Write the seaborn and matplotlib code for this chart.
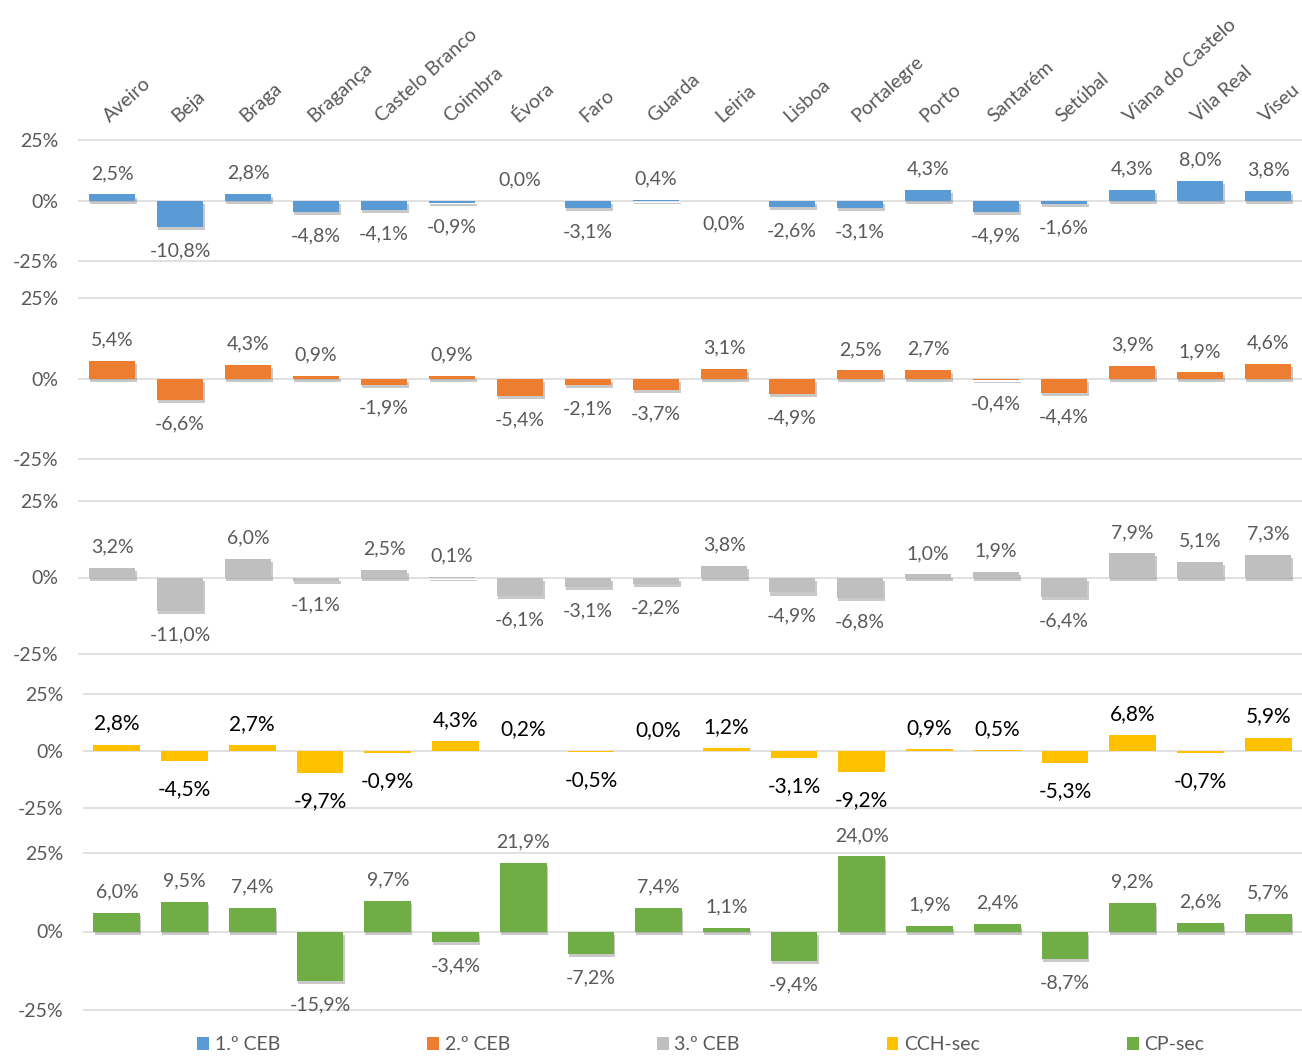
import matplotlib
matplotlib.use("Agg")
import matplotlib.pyplot as plt
import matplotlib.patheffects as pe
from matplotlib.patches import Patch
import seaborn as sns
import pandas as pd

districts = ["Aveiro", "Beja", "Braga", "Bragança", "Castelo Branco", "Coimbra", "Évora",
             "Faro", "Guarda", "Leiria", "Lisboa", "Portalegre", "Porto", "Santarém",
             "Setúbal", "Viana do Castelo", "Vila Real", "Viseu"]

ceb1 = [2.5, -10.8, 2.8, -4.8, -4.1, -0.9, 0.0, -3.1, 0.4, -0.04, -2.6, -3.1, 4.3, -4.9, -1.6, 4.3, 8.0, 3.8]
ceb2 = [5.4, -6.6, 4.3, 0.9, -1.9, 0.9, -5.4, -2.1, -3.7, 3.1, -4.9, 2.5, 2.7, -0.4, -4.4, 3.9, 1.9, 4.6]
ceb3 = [3.2, -11.0, 6.0, -1.1, 2.5, 0.1, -6.1, -3.1, -2.2, 3.8, -4.9, -6.8, 1.0, 1.9, -6.4, 7.9, 5.1, 7.3]
cch_sec = [2.8, -4.5, 2.7, -9.7, -0.9, 4.3, 0.2, -0.5, 0.0, 1.2, -3.1, -9.2, 0.9, 0.5, -5.3, 6.8, -0.7, 5.9]
cp_sec = [6.0, 9.5, 7.4, -15.9, 9.7, -3.4, 21.9, -7.2, 7.4, 1.1, -9.4, 24.0, 1.9, 2.4, -8.7, 9.2, 2.6, 5.7]

series_names = ["1.º CEB", "2.º CEB", "3.º CEB", "CCH-sec", "CP-sec"]
series_values = [ceb1, ceb2, ceb3, cch_sec, cp_sec]
colors = ["#5B9BD5", "#ED7D31", "#BFBFBF", "#FFC000", "#70AD47"]

sns.set_theme(style="white")
plt.rcParams["font.family"] = ["Lato", "DejaVu Sans"]

W, H = 1302, 1057
fig = plt.figure(figsize=(W / 100, H / 100), dpi=100)

# (left, right, top, bottom) in pixels
layout = [
    (78, 1302, 139, 262),
    (78, 1302, 297, 460),
    (78, 1302, 500, 655),
    (83, 1302, 693, 809),
    (83, 1302, 852, 1011),
]

GRAY = "#595959"


def fmt(v):
    s = f"{v:.1f}".replace(".", ",")
    if s == "-0,0":
        s = "0,0"
    return s + "%"


for i, (name, vals, col, (l, r, t, b)) in enumerate(zip(series_names, series_values, colors, layout)):
    ax = fig.add_axes([l / W, (H - b) / H, (r - l) / W, (b - t) / H])
    df = pd.DataFrame({"Distrito": districts, "Valor": vals})
    sns.barplot(data=df, x="Distrito", y="Valor", color=col, saturation=1, width=0.69,
                ax=ax, zorder=3, linewidth=0, edgecolor="none")
    ax.set_ylim(-25.4, 25.4)
    ax.set_xlim(-0.5, len(districts) - 0.5)
    ax.set_yticks([-25, 0, 25])
    ax.set_yticklabels(["-25%", "0%", "25%"])
    ax.yaxis.grid(True, color="#D9D9D9", linewidth=1.1, zorder=0)
    ax.xaxis.grid(False)
    for s in ax.spines.values():
        s.set_visible(False)
    ax.tick_params(axis="y", length=0, pad=14, labelsize=14, labelcolor=GRAY)
    ax.set_xlabel("")
    ax.set_ylabel("")
    if i != 3:
        for p in ax.patches:
            p.set_linewidth(0)
            p.set_path_effects([pe.SimplePatchShadow(offset=(0.8, -2.2), shadow_rgbFace="#404040", alpha=0.28),
                                pe.Normal()])
    cont = ax.containers[0]
    lab_color = "black" if i == 3 else GRAY
    lab_size = 15 if i == 3 else 14
    pos_lab = [fmt(v) if v >= 0 else "" for v in vals]
    neg_lab = [fmt(v) if v < 0 else "" for v in vals]
    ax.bar_label(cont, labels=pos_lab, padding=(8 if i == 3 else 9), color=lab_color, fontsize=lab_size)
    ax.bar_label(cont, labels=neg_lab, padding=(13 if i == 3 else 11), color=lab_color, fontsize=lab_size)
    if i == 0:
        ax.xaxis.tick_top()
        ax.set_xticks(range(len(districts)))
        ax.set_xticklabels(districts, rotation=42, ha="left", va="bottom",
                           rotation_mode="anchor", color=GRAY, fontsize=14)
        ax.tick_params(axis="x", length=0, pad=10)
    else:
        ax.set_xticks([])

handles = [Patch(facecolor=c, edgecolor="none") for c in colors]
fig.legend(handles, series_names, loc="center", ncol=5, frameon=False,
           bbox_to_anchor=(180 / W, 2 / H, (1222 - 180) / W, 20 / H), mode="expand",
           handlelength=0.6, handleheight=0.6, handletextpad=0.3,
           prop={"family": ["Liberation Sans Narrow", "Lato", "DejaVu Sans"], "size": 14},
           labelcolor=GRAY)

fig.savefig("out.png", dpi=100)
